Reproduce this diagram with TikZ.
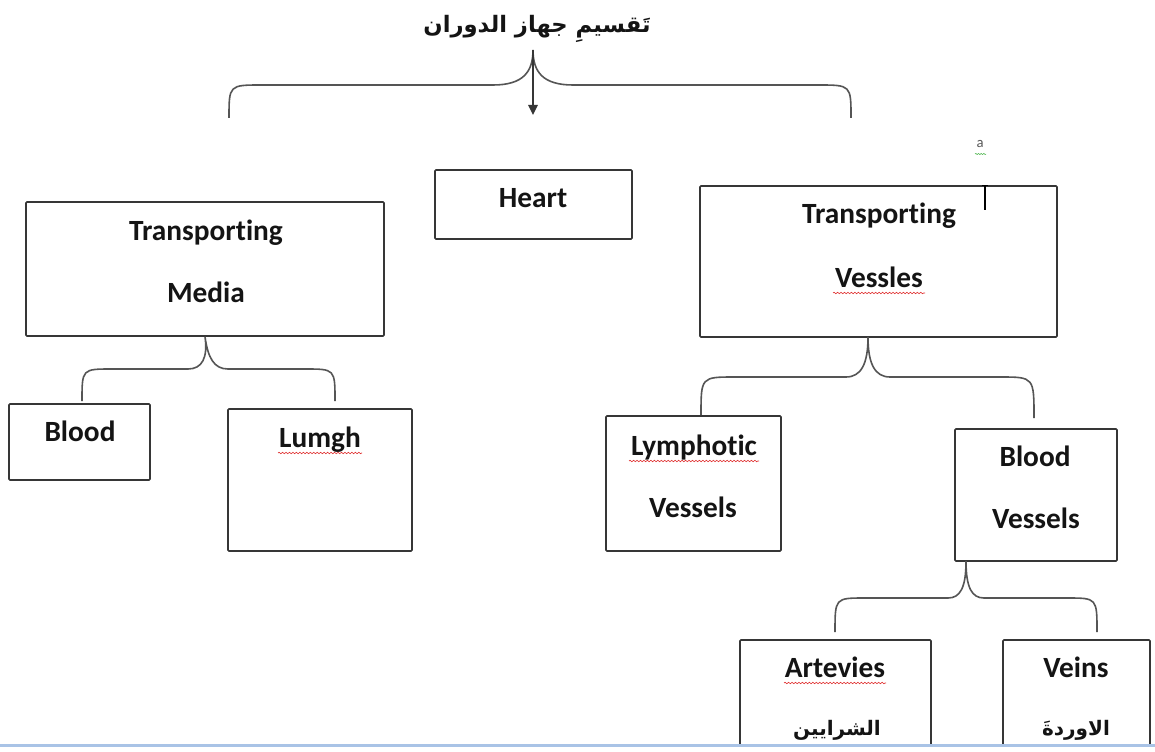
\documentclass[tikz,border=0pt]{standalone}
\usepackage{fontspec}
\setmainfont[Ligatures={NoCommon}]{Carlito}
\newfontfamily\arabicfont[Script=Arabic]{DejaVu Sans}
\TeXXeTstate=1
\usetikzlibrary{arrows.meta,decorations.pathmorphing}
\definecolor{boxgray}{HTML}{363636}
\definecolor{bracegray}{HTML}{555555}
\definecolor{wordblue}{HTML}{A9C3E6}
\definecolor{spellred}{HTML}{E03030}
\definecolor{spellgreen}{HTML}{40B040}
\newcommand\mkbox[5]{\node[box,minimum width={(#4-#2)*0.75pt},minimum height={(#5-#3)*0.75pt}] (#1) at ({(#2+#4)/2},{(#3+#5)/2}) {};}
\begin{document}
\begin{tikzpicture}[x=0.75pt,y=-0.75pt,
  box/.style={draw=boxgray,line width=1.2pt,rounded corners=0.8pt,inner sep=0pt},
  lbl/.style={font=\fontsize{22}{26}\selectfont\bfseries,text=black!92,inner sep=0pt,anchor=base},
  arlbl/.style={font=\arabicfont\bfseries\fontsize{15}{18}\selectfont,text=black!92,inner sep=0pt,anchor=base},
  brace/.style={draw=bracegray,line width=1.2pt},
  squig/.style={draw=spellred,line width=0.45pt,decorate,decoration={snake,segment length=2.6pt,amplitude=0.55pt}}]
\useasboundingbox (0,0) rectangle (1155,752);
\fill[white] (0,0) rectangle (1155,752);

% title
\node[font=\arabicfont\bfseries\fontsize{17}{20}\selectfont,text=black!92,inner sep=0pt,anchor=base] (title) at (537,33) {\beginR تَقسيمِ جهاز الدوران\endR};

% top brace and arrow
\coordinate (ttip) at (533,50);
\coordinate (tarrow) at (533,115);
\draw[brace] (229,118) .. controls (229,85) .. (262,85) -- (493,85) .. controls (523,85) and (533,72) .. (ttip) .. controls (533,72) and (543,85) .. (573,85) -- (818,85) .. controls (851,85) .. (851,118);
\draw[line width=1.2pt,boxgray,-{Triangle[length=7.5pt,width=7pt]}] (ttip) -- (tarrow);

% boxes
\mkbox{heart}{435}{170}{632}{239}
\mkbox{tm}{26}{202}{384}{336}
\mkbox{tv}{700}{186}{1057}{337}
\mkbox{blood}{9}{404}{150}{480}
\mkbox{lung}{228}{409}{412}{551}
\mkbox{lymph}{606}{416}{781}{551}
\mkbox{bv}{955}{429}{1117}{561}
\mkbox{art}{740}{640}{931}{760}
\mkbox{veins}{1003}{640}{1150}{760}

% labels
\node[lbl] (heartT) at (533,207.5) {Heart};
\node[lbl] (tmA) at (206,240.5) {Transporting};
\node[lbl] (tmB) at (206,302.5) {Media};
\node[lbl] (tvA) at (879,223.5) {Transporting};
\node[lbl] (tvB) at (879,287.5) {Vessles};
\node[lbl] (bloodT) at (80,441.5) {Blood};
\node[lbl] (lungT) at (320,447.5) {Lumgh};
\node[lbl] (lymA) at (694,455.5) {Lymphotic};
\node[lbl] (lymB) at (693,517.5) {Vessels};
\node[lbl] (bvA) at (1035,466.5) {Blood};
\node[lbl] (bvB) at (1036,528.5) {Vessels};
\node[lbl] (artA) at (835,677.5) {Artevies};
\node[arlbl] (artB) at (837,735) {\beginR الشرايين\endR};
\node[lbl] (veinA) at (1076,677.5) {Veins};
\node[arlbl] (veinB) at (1076,735) {\beginR الاوردةَ\endR};

% spell-check squiggles
\draw[squig] (833,293) -- (925,293);
\draw[squig] (278,453) -- (362,453);
\draw[squig] (629,461) -- (759,461);
\draw[squig] (784,683) -- (886,683);

% stray "a" and cursor
\node[font=\fontsize{11}{12}\selectfont,text=black!65,inner sep=0pt] (stray) at (980,144) {a};
\draw[spellgreen,line width=0.4pt,decorate,decoration={snake,segment length=2pt,amplitude=0.4pt}] (975,154) -- (986,154);
\coordinate (curT) at (985,186);
\coordinate (curB) at (985,210);
\draw[black,line width=1pt] (curT) -- (curB);
\draw[black,line width=0.6pt] (982,185) -- (988,185);

% braces
\draw[brace] (82,401) .. controls (82,369) .. (112,369) -- (188,369) .. controls (202,369) and (208,358) .. (tm.south) .. controls (208,358) and (214,369) .. (228,369) -- (305,369) .. controls (335,369) .. (335,401);
\draw[brace] (701,415) .. controls (701,377) .. (735,377) -- (846,377) .. controls (861,377) and (868,364) .. (868,337) .. controls (868,364) and (875,377) .. (890,377) -- (1000,377) .. controls (1034,377) .. (1034,418);
\draw[brace] (835,632) .. controls (835,598) .. (865,598) -- (948,598) .. controls (960,598) and (966,588) .. (966,561) .. controls (966,588) and (972,598) .. (984,598) -- (1067,598) .. controls (1097,598) .. (1097,632);

% bottom window edge
\fill[white] (0,746) rectangle (1155,752);
\draw[wordblue,line width=2pt] (0,745.5) -- (1155,745.5);
\end{tikzpicture}
\end{document}
